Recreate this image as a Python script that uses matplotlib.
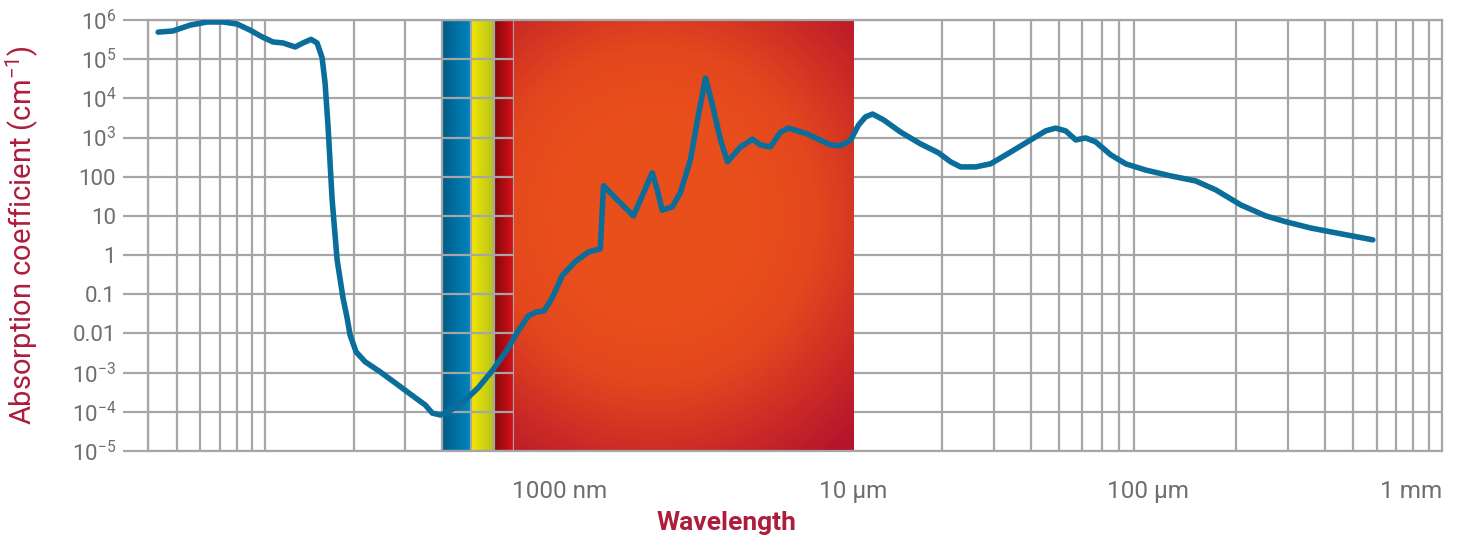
import numpy as np
import matplotlib
matplotlib.use("Agg")
import matplotlib.pyplot as plt
from matplotlib.colors import LinearSegmentedColormap
from matplotlib.ticker import FixedLocator, NullLocator, NullFormatter

# ---------------- data ----------------
wavelength_nm = [43.3, 48.6, 55.6, 63.5, 72.0, 80.3, 89.0, 97.7, 106.4, 115, 126.5, 134.6,
                 143.3, 150.2, 156.2, 159.9, 163.7, 169, 175.7, 184, 190, 194.5, 203.8,
                 218.6, 246, 288, 323.6, 350, 370, 394, 419, 468, 530, 596, 665, 719, 784,
                 835, 889, 946, 1023, 1133, 1256, 1378, 1413, 1550, 1786, 2070, 2153, 2237,
                 2420, 2578, 2790, 2970, 3140, 3314, 3532, 3726, 4127, 4533, 4826, 5220,
                 5645, 6010, 6980, 8360, 9040, 9780, 10400, 10990, 11610, 12650, 14450,
                 16890, 19450, 21380, 23120, 26010, 29250, 34200, 40000, 44980, 48640,
                 52600, 56900, 61500, 66500, 74800, 84100, 98400, 119700, 145500, 170400,
                 207300, 251800, 294500, 358300, 453000, 582000]
absorption = [4.9e5, 5.25e5, 7.4e5, 8.9e5, 8.9e5, 7.9e5, 5.5e5, 3.7e5, 2.75e5, 2.6e5, 2.05e5,
              2.6e5, 3.2e5, 2.6e5, 1.1e5, 2.5e4, 1.9e3, 26, 0.76, 0.081, 0.025, 0.0091,
              0.0034, 0.0019, 0.00105, 4.4e-4, 2.3e-4, 1.5e-4, 9.3e-5, 8.3e-5, 1.0e-4,
              1.7e-4, 4.1e-4, 1.2e-3, 3.8e-3, 0.0105, 0.028, 0.035, 0.038, 0.081, 0.30,
              0.68, 1.2, 1.45, 59, 29, 10, 126, 46, 14, 17, 39, 270, 3800, 3.3e4, 6800,
              870, 240, 575, 910, 645, 575, 1380, 1740, 1230, 645, 617, 870, 2090, 3390,
              3980, 2820, 1380, 690, 407, 240, 178, 178, 214, 427, 870, 1480, 1740, 1480,
              870, 977, 776, 363, 214, 148, 105, 78, 46, 19, 10, 7.1, 4.9, 3.5, 2.45]

ytick_values = [1e-5, 1e-4, 1e-3, 1e-2, 1e-1, 1, 10, 100, 1e3, 1e4, 1e5, 1e6]
ytick_labels = [r'10$^{\mathregular{-5}}$', r'10$^{\mathregular{-4}}$', r'10$^{\mathregular{-3}}$',
                '0.01', '0.1', '1', '10', '100',
                r'10$^{\mathregular{3}}$', r'10$^{\mathregular{4}}$', r'10$^{\mathregular{5}}$',
                r'10$^{\mathregular{6}}$']
xtick_values = [1000, 1e4, 1e5, 1e6]
xtick_labels = ['1000 nm', '10 µm', '100 µm', '1 mm']

# spectral bands (nm)
blue_band = (400, 500)
yellow_band = (500, 600)
red_band = (600, 700)
ir_band = (700, 10000)

# ---------------- style ----------------
plt.rcParams['font.family'] = ['Roboto', 'DejaVu Sans']
plt.rcParams['mathtext.fontset'] = 'custom'
plt.rcParams['mathtext.rm'] = 'Roboto'
GRID = '#a6a6a6'
TICK_TXT = '#6e6e6e'
CRIMSON = '#ae1d3b'
CURVE = '#0b6d99'

W_PX, H_PX = 1294, 431
fig = plt.figure(figsize=(14.58, 5.36), dpi=100)
ax = fig.add_axes([148 / 1458, 1 - 451 / 536, W_PX / 1458, H_PX / 536])
ax.set_xscale('log')
ax.set_yscale('log')
xmin, xmax = 40, 1e6
ymin, ymax = 1e-5, 1e6
ax.set_xlim(xmin, xmax)
ax.set_ylim(ymin, ymax)

ny = 60
yedges = np.geomspace(ymin, ymax, ny + 1)


def hband(x0, x1, c0, c1, z):
    cmap = LinearSegmentedColormap.from_list('b', [c0, c1])
    xe = np.geomspace(x0, x1, 41)
    C = np.tile(np.linspace(0, 1, 40), (ny, 1))
    ax.pcolormesh(xe, yedges, C, cmap=cmap, shading='flat', zorder=z,
                  rasterized=True, antialiased=False, edgecolors='none')


hband(*blue_band, '#005d88', '#0084bd', 0.2)
hband(*yellow_band, '#f6e600', '#b3c41c', 0.2)
hband(*red_band, '#820808', '#d6101b', 0.2)

# IR radial gradient
nx_ir, ny_ir = 240, 240
xe = np.geomspace(*ir_band, nx_ir + 1)
ye = np.geomspace(ymin, ymax, ny_ir + 1)
lx = np.log10(np.sqrt(xe[:-1] * xe[1:]))
ly = np.log10(np.sqrt(ye[:-1] * ye[1:]))
LX, LY = np.meshgrid(lx, ly)
# positions in axes pixels (origin top-left of axes)
px = (LX - np.log10(xmin)) / (np.log10(xmax) - np.log10(xmin)) * W_PX
py = (np.log10(ymax) - LY) / (np.log10(ymax) - np.log10(ymin)) * H_PX
cx, cy = 655 - 148, 215 - 20
d = np.sqrt(((px - cx) / 245) ** 2 + ((py - cy) / 255) ** 2)
Cir = np.clip((d - 0.35) / 0.82, 0, 1) ** 1.1
cmap_ir = LinearSegmentedColormap.from_list('ir', ['#e94f1b', '#e3471d', '#cc2d25', '#b5152b'])
ax.pcolormesh(xe, ye, Cir, cmap=cmap_ir, shading='flat', zorder=1,
              rasterized=True, antialiased=False, edgecolors='none')

# grid
grid_pos = [m * 10.0 ** e for e in range(1, 6) for m in range(1, 10)
            if xmin <= m * 10.0 ** e <= xmax and not (m == 1 and e == 5)]
ax.xaxis.set_minor_locator(FixedLocator(grid_pos))
ax.xaxis.set_minor_formatter(NullFormatter())
ax.xaxis.set_major_locator(FixedLocator(xtick_values))
ax.set_xticklabels(xtick_labels)
ax.yaxis.set_major_locator(FixedLocator(ytick_values))
ax.yaxis.set_minor_locator(NullLocator())
ax.set_yticklabels(ytick_labels)
ax.set_axisbelow(True)
ax.xaxis.grid(True, which='minor', color=GRID, lw=1.6)
ax.xaxis.grid(False, which='major')
ax.yaxis.grid(True, which='major', color=GRID, lw=1.6)

ax.tick_params(axis='x', which='both', length=0, pad=21, labelsize=17.5, labelcolor=TICK_TXT)
ax.tick_params(axis='y', which='major', length=18, width=1.6, color=GRID, pad=5,
               labelsize=16, labelcolor=TICK_TXT)
ax.get_xticklabels()[-1].set_horizontalalignment('right')
for s in ax.spines.values():
    s.set_color(GRID)
    s.set_linewidth(1.6)
    s.set_zorder(2.5)

ax.plot(wavelength_nm, absorption, color=CURVE, lw=4.0, solid_joinstyle='round',
        solid_capstyle='round', zorder=4)

ax.set_ylabel(r'Absorption coefficient (cm$^{\mathregular{-1}}$)', color=CRIMSON, fontsize=21)
ax.yaxis.label.set_verticalalignment('center')
ax.yaxis.set_label_coords(-0.0974, 0.5)
ax.set_xlabel('Wavelength', color=CRIMSON, fontsize=19, fontweight='bold')
ax.xaxis.set_label_coords(0.447, -0.14)

fig.savefig('out.png', dpi=100)
